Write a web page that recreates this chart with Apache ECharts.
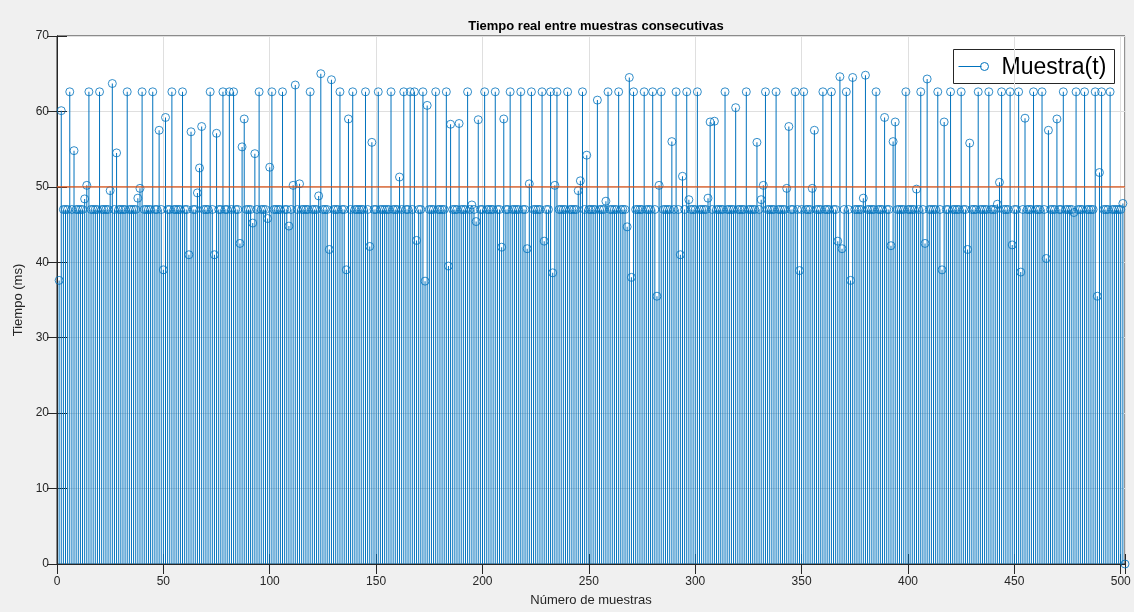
<!DOCTYPE html>
<html>
<head>
<meta charset="utf-8">
<script src="https://cdn.jsdelivr.net/npm/echarts@6/dist/echarts.min.js"></script>
<style>
html,body{margin:0;padding:0;background:#f0f0f0;}
#chart{width:1134px;height:612px;}
</style>
</head>
<body>
<div id="chart"></div>
<script>
// Tiempo (ms) per sample, samples 1..502
const tiempos = [
37.6,60.1,47,47,47,62.6,47,54.8,47,47,
47,47,48.4,50.2,62.6,47,47,47,47,62.6,
47,47,47,47,49.5,63.7,47,54.5,47,47,
47,47,62.6,47,47,47,47,48.5,49.8,62.6,
47,47,47,47,62.6,47,47,57.5,47,39.0,
59.2,47,47,62.6,47,47,47,47,62.6,47,
47,41.0,57.3,47,47,49.2,52.5,58.0,47,47,
47,62.6,47,41.0,57.1,47,47,62.6,47,47,
62.6,47,62.6,47,47,42.5,55.3,59.0,47,47,
47,45.2,54.4,47,62.6,47,47,47,45.8,52.6,
62.6,47,47,47,47,62.6,47,47,44.8,47,
50.2,63.5,47,50.4,47,47,47,47,62.6,47,
47,47,48.8,65.0,47,47,47,41.7,64.2,47,
47,47,62.6,47,47,39.0,59.0,47,62.6,47,
47,47,47,47,62.6,47,42.1,55.9,47,47,
62.6,47,47,47,47,47,62.6,47,47,47,
51.3,47,62.6,47,47,62.6,47,62.6,42.9,47,
47,62.6,37.5,60.8,47,47,47,62.6,47,47,
47,47,62.6,39.5,58.3,47,47,47,58.4,47,
47,47,62.6,47,47.6,47,45.4,58.9,47,47,
62.6,47,47,47,47,62.6,47,47,42.0,59.0,
47,47,62.6,47,47,47,47,62.6,47,47,
41.8,50.4,62.6,47,47,47,47,62.6,42.8,47,
47,62.6,38.6,50.2,62.6,47,47,47,47,62.6,
47,47,47,47,49.5,50.8,62.6,47,54.2,47,
47,47,47,61.5,47,47,47,48.1,62.6,47,
47,47,47,62.6,47,47,47,44.7,64.5,38.0,
62.6,47,47,47,47,62.6,47,47,47,62.6,
47,35.5,50.2,62.6,47,47,47,47,56.0,47,
62.6,47,41.0,51.4,47,62.6,48.3,47,47,47,
62.6,47,47,47,47,48.5,58.6,47,58.7,47,
47,47,47,62.6,47,47,47,47,60.5,47,
47,47,47,62.6,47,47,47,47,55.9,47,
48.3,50.2,62.6,47,47,47,47,62.6,47,47,
47,47,49.8,58.0,47,47,62.6,47,38.9,47,
62.6,47,47,47,49.8,57.5,47,47,47,62.6,
47,47,47,62.6,47,47,42.8,64.6,41.8,47,
62.6,47,37.6,64.5,47,47,47,47,48.5,64.8,
47,47,47,47,62.6,47,47,47,59.2,47,
47,42.2,56.0,58.6,47,47,47,47,62.6,47,
47,47,47,49.7,47,62.6,47,42.5,64.3,47,
47,47,47,62.6,47,39.0,58.6,47,47,62.6,
47,47,47,47,62.6,47,47,41.7,55.8,47,
47,47,62.6,47,47,47,47,62.6,47,47,
47,47.7,50.6,62.6,47,47,47,62.6,42.3,47,
47,62.6,38.7,47,59.1,47,47,47,62.6,47,
47,47,62.6,47,40.5,57.5,47,47,47,59.0,
47,47,62.6,47,47,47,47,46.6,62.6,47,
47,47,62.6,47,47,47,47,62.6,35.5,51.9,
62.6,47,47,47,62.6,47,47,47,47,47,
47.8,0
];
const muestras = tiempos.map((_, i) => i + 1);
const umbral = 50;
const xTicks = [0, 50, 100, 150, 200, 250, 300, 350, 400, 450, 500];
const yTicks = [0, 10, 20, 30, 40, 50, 60, 70];

const pts = muestras.map((m, i) => [m, tiempos[i]]);
const xMax = muestras[muestras.length - 1];

const chart = echarts.init(document.getElementById('chart'), null, {renderer: 'canvas'});
const axisColor = '#262626';
const font = 'Liberation Sans, Arial, sans-serif';

chart.setOption({
  backgroundColor: '#f0f0f0',
  animation: false,
  title: {
    text: 'Tiempo real entre muestras consecutivas',
    left: 591, top: 15, textAlign: 'center',
    textStyle: {fontFamily: font, fontWeight: 'bold', fontSize: 13, color: '#000'}
  },
  grid: {left: 57, right: 9, top: 36, bottom: 37, show: true, backgroundColor: '#ffffff', borderColor: axisColor, borderWidth: 1},
  xAxis: [{
    type: 'value', min: 0, max: xMax, interval: 50,
    name: 'Número de muestras', nameLocation: 'middle', nameGap: 30,
    nameTextStyle: {fontFamily: font, fontSize: 13, color: axisColor},
    axisLine: {show: true, lineStyle: {color: axisColor}},
    axisTick: {show: true, inside: true, length: 10, lineStyle: {color: axisColor}},
    axisLabel: {fontFamily: font, fontSize: 12, color: axisColor, margin: 12,
      formatter: v => xTicks.indexOf(v) >= 0 ? String(v) : ''},
    splitLine: {show: true, lineStyle: {color: '#dfdfdf', width: 1}}
  }, {
    type: 'value', position: 'top', min: 0, max: xMax, interval: 50,
    axisLine: {show: true, lineStyle: {color: axisColor}},
    axisTick: {show: true, inside: true, length: 10, lineStyle: {color: axisColor}},
    axisLabel: {show: false}, splitLine: {show: false}
  }],
  yAxis: [{
    type: 'value', min: 0, max: 70, interval: 10,
    name: 'Tiempo (ms)', nameLocation: 'middle', nameGap: 22,
    nameTextStyle: {fontFamily: font, fontSize: 13, color: axisColor},
    axisLine: {show: true, lineStyle: {color: axisColor}},
    axisTick: {show: true, inside: true, length: 10, lineStyle: {color: axisColor}},
    axisLabel: {fontFamily: font, fontSize: 12, color: axisColor, margin: 8,
      formatter: v => yTicks.indexOf(v) >= 0 ? String(v) : ''},
    splitLine: {show: true, lineStyle: {color: '#dfdfdf', width: 1}}
  }, {
    type: 'value', position: 'right', min: 0, max: 70, interval: 10,
    axisLine: {show: true, lineStyle: {color: axisColor}},
    axisTick: {show: true, inside: true, length: 10, lineStyle: {color: axisColor}},
    axisLabel: {show: false}, splitLine: {show: false}
  }],
  series: [{
    name: 'Muestra(t)', type: 'bar', data: pts, barWidth: 0.8,
    itemStyle: {color: '#0072BD'}, silent: true, z: 2
  }, {
    name: 'Muestra(t)', type: 'scatter', data: pts, symbol: 'circle', symbolSize: 8,
    itemStyle: {color: 'rgba(0,0,0,0)', borderColor: '#0072BD', borderWidth: 1},
    silent: true, z: 3
  }, {
    name: 'umbral', type: 'line', data: [[0, umbral], [xMax, umbral]],
    symbol: 'none', showSymbol: false, lineStyle: {color: '#D95319', width: 1.2}, silent: true, z: 10
  }],
  graphic: [{
    type: 'group', left: 953, top: 49, z: 100,
    children: [
      {type: 'rect', shape: {x: 0, y: 0, width: 161, height: 34}, style: {fill: '#fff', stroke: axisColor, lineWidth: 1}},
      {type: 'line', shape: {x1: 5, y1: 17, x2: 28, y2: 17}, style: {stroke: '#0072BD', lineWidth: 1}},
      {type: 'circle', shape: {cx: 31, cy: 17, r: 4}, style: {fill: 'none', stroke: '#0072BD', lineWidth: 1}},
      {type: 'text', style: {x: 48, y: 18, text: 'Muestra(t)', font: '23px Liberation Sans, Arial, sans-serif', fill: '#000', verticalAlign: 'middle', textVerticalAlign: 'middle'}}
    ]
  }]
});
</script>
</body>
</html>
